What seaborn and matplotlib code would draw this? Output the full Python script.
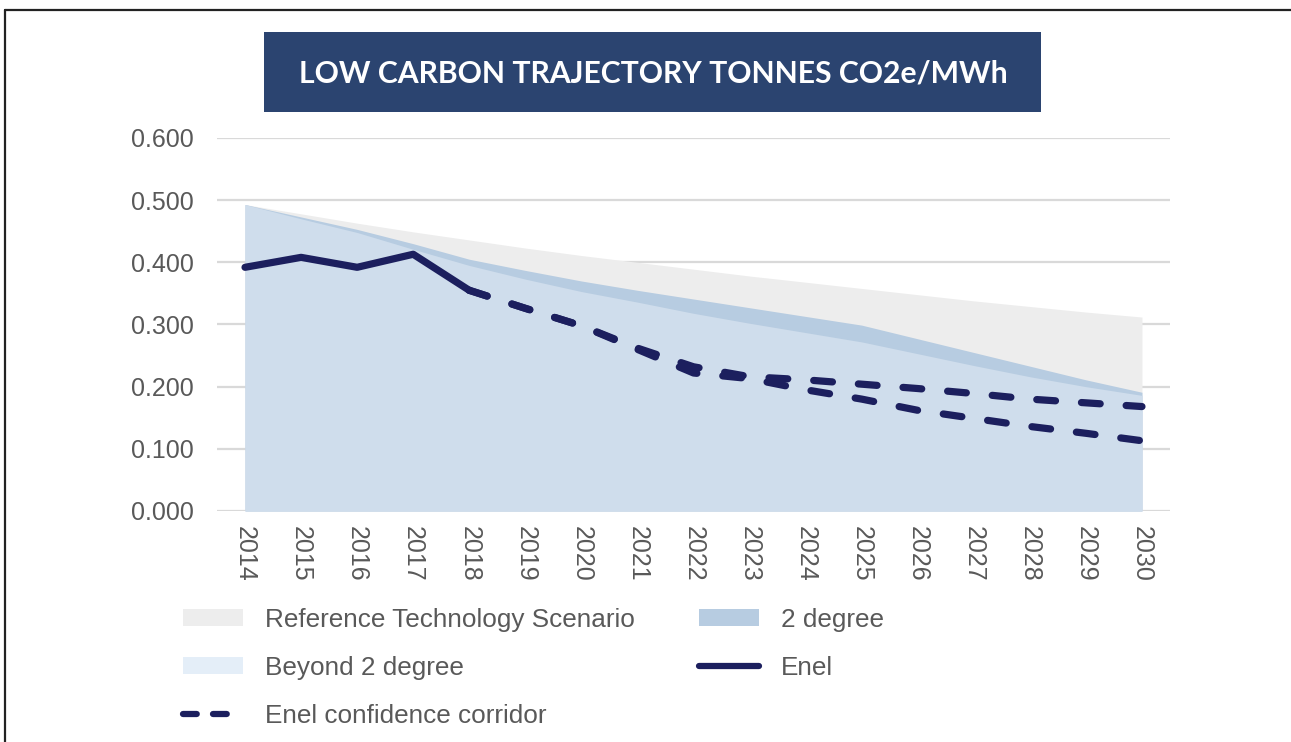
import matplotlib
matplotlib.use("Agg")
import matplotlib.pyplot as plt
import seaborn as sns
import pandas as pd
from matplotlib.patches import Patch, Rectangle
from matplotlib.lines import Line2D

# ---------------- data ----------------
years = list(range(2014, 2031))
ref_tech = [0.493, 0.478, 0.463, 0.449, 0.436, 0.423, 0.411, 0.400, 0.389,
            0.378, 0.368, 0.358, 0.348, 0.338, 0.329, 0.320, 0.312]
two_degree = [0.493, 0.473, 0.453, 0.430, 0.405, 0.387, 0.370, 0.355, 0.341,
              0.327, 0.313, 0.299, 0.277, 0.255, 0.233, 0.211, 0.191]
beyond_two = [0.493, 0.470, 0.448, 0.421, 0.395, 0.373, 0.353, 0.336, 0.318,
              0.302, 0.287, 0.272, 0.253, 0.234, 0.216, 0.200, 0.186]
enel_years = [2014, 2015, 2016, 2017, 2018]
enel = [0.392, 0.408, 0.392, 0.413, 0.355]
corr_years = list(range(2018, 2031))
corr_upper = [0.355, 0.326, 0.298, 0.262, 0.232, 0.216, 0.211, 0.204, 0.197,
              0.189, 0.180, 0.174, 0.168]
corr_lower = [0.355, 0.326, 0.298, 0.260, 0.222, 0.213, 0.195, 0.180, 0.162,
              0.149, 0.136, 0.125, 0.113]
yticks = [0.0, 0.1, 0.2, 0.3, 0.4, 0.5, 0.6]
title = "LOW CARBON TRAJECTORY TONNES CO2e/MWh"
labels = ["Reference Technology Scenario", "2 degree", "Beyond 2 degree",
          "Enel", "Enel confidence corridor"]

# ---------------- style ----------------
sns.set_theme(style="white")
plt.rcParams["font.family"] = ["Liberation Sans", "DejaVu Sans"]

c_ref = "#EDEDED"
c_two = "#B7CCE1"
c_beyond = "#CFDDEC"
c_beyond_leg = "#E4EEF8"
c_enel = "#1C1F5E"
c_text = "#595959"

fig = plt.figure(figsize=(12.91, 7.42), dpi=100)
ax = fig.add_axes([217 / 1291, 1 - 511 / 742, (1170 - 217) / 1291, (511 - 138) / 742])

ax.fill_between(years, 0, ref_tech, color=c_ref, lw=0, zorder=1)
ax.fill_between(years, 0, two_degree, color=c_two, lw=0, zorder=2)
ax.fill_between(years, 0, beyond_two, color=c_beyond, lw=0, zorder=3)

df_enel = pd.DataFrame({"year": enel_years, "value": enel})
sns.lineplot(data=df_enel, x="year", y="value", ax=ax, color=c_enel, lw=5.2,
             zorder=5, solid_capstyle="round", solid_joinstyle="round")

df_up = pd.DataFrame({"year": corr_years, "value": corr_upper})
df_lo = pd.DataFrame({"year": corr_years, "value": corr_lower})
for d in (df_up, df_lo):
    sns.lineplot(data=d, x="year", y="value", ax=ax, color=c_enel, lw=5.2,
                 zorder=6, dashes=False, dash_capstyle="round",
                 linestyle=(0, (2.6, 3.6)))

ax.set_xlim(2013.5, 2030.5)
ax.set_ylim(0, 0.6)
ax.set_yticks(yticks)
ax.set_yticklabels([f"{v:.3f}" for v in yticks])
ax.set_xticks(years)
ax.set_xticklabels([str(y) for y in years], rotation=270)
ax.tick_params(axis="y", labelsize=18, labelcolor=c_text, pad=17, length=0)
ax.tick_params(axis="x", labelsize=18, labelcolor=c_text, pad=11, length=0)
ax.set_xlabel("")
ax.set_ylabel("")
ax.yaxis.grid(True, color="#D9D9D9", lw=1.6, zorder=0)
ax.xaxis.grid(False)
ax.set_axisbelow(True)
for s in ax.spines.values():
    s.set_visible(False)

# ---------------- legend ----------------
h_ref = Patch(facecolor=c_ref, edgecolor="none")
h_two = Patch(facecolor=c_two, edgecolor="none")
h_beyond = Patch(facecolor=c_beyond_leg, edgecolor="none")
h_enel = Line2D([], [], color=c_enel, lw=4.5)
h_corr = Line2D([], [], color=c_enel, lw=4.5, linestyle=(0, (2.2, 2.6)),
                dash_capstyle="round")
leg = fig.legend([h_ref, h_beyond, h_corr, h_two, h_enel],
                 [labels[0], labels[2], labels[4], labels[1], labels[3]],
                 ncol=2, loc="upper left", bbox_to_anchor=(183 / 1291, 1 - 608 / 742),
                 frameon=False, fontsize=18.8, handlelength=2.3, handleheight=0.62,
                 handletextpad=0.85, columnspacing=2.45, labelspacing=0.92,
                 borderaxespad=0, borderpad=0)
for t in leg.get_texts():
    t.set_color(c_text)

# ---------------- title box ----------------
fig.patches.append(Rectangle((264 / 1291, 1 - 112 / 742), (1041 - 264) / 1291, 80 / 742,
                             transform=fig.transFigure, facecolor="#2B4470",
                             edgecolor="none", zorder=0))
fig.text((299 + 1007) / 2 / 1291, 1 - 73 / 742, title, ha="center", va="center",
         color="white", fontsize=21.7, fontweight="bold", family=["Lato", "DejaVu Sans"])

# ---------------- outer frame (left and top edges) ----------------
fig.add_artist(Line2D([5 / 1291, 5 / 1291], [0, 1 - 10 / 742], transform=fig.transFigure,
                      color="#222222", lw=1.6))
fig.add_artist(Line2D([5 / 1291, 1], [1 - 10 / 742, 1 - 10 / 742], transform=fig.transFigure,
                      color="#222222", lw=1.6))

fig.savefig("out.png", dpi=100)
